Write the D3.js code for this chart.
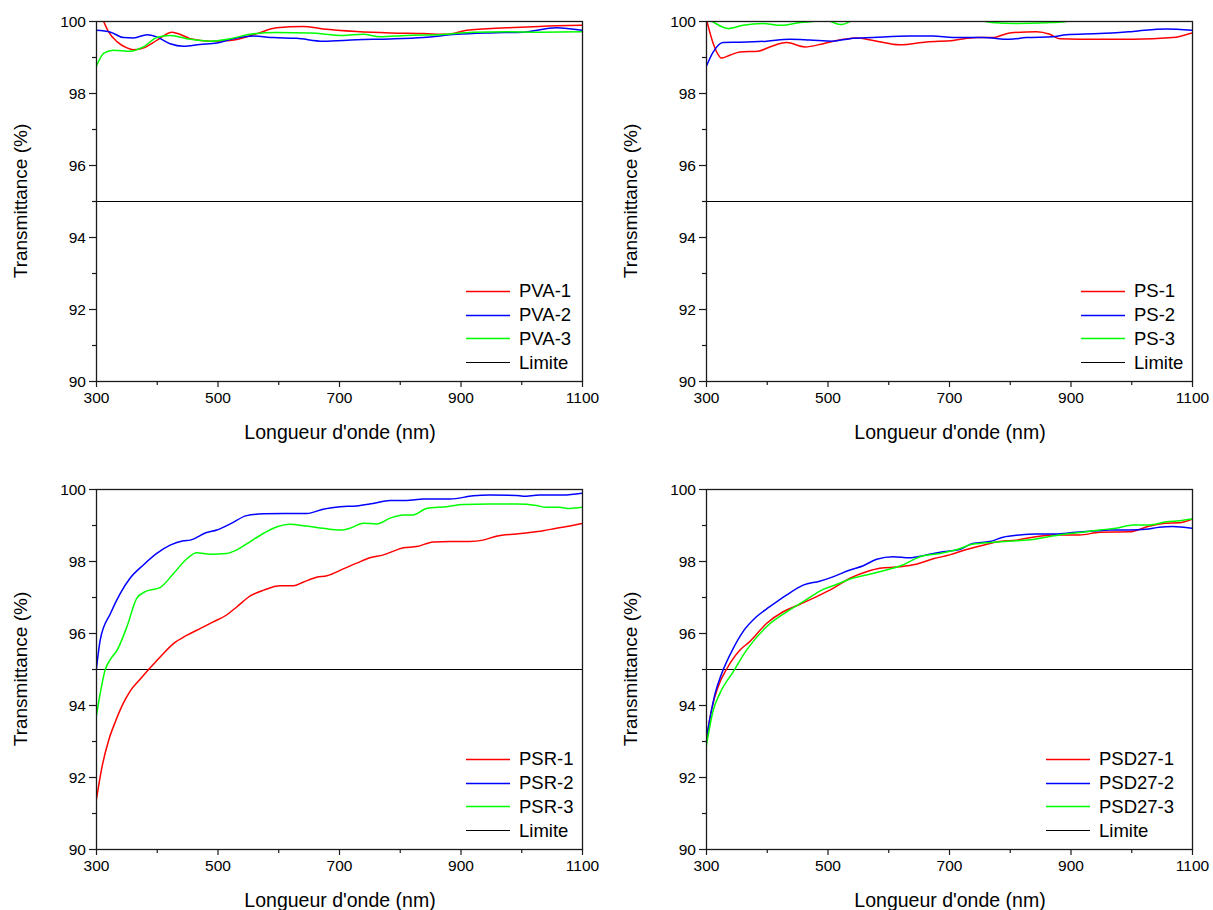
<!DOCTYPE html>
<html><head><meta charset="utf-8">
<script src="https://cdn.jsdelivr.net/npm/d3@7"></script>
<style>body{margin:0;background:#fff}svg{display:block;font-family:"Liberation Sans",Arial,sans-serif}</style>
</head><body><svg id="c" width="1213" height="910"></svg>
<script>
// ---- data ----
const xTicks = [300, 500, 700, 900, 1100];
const xMinorTicks = [400, 600, 800, 1000];
const yTicks = [90, 92, 94, 96, 98, 100];
const yMinorTicks = [91, 93, 95, 97, 99];
const limitValue = 95;
const xTitle = "Longueur d'onde (nm)";
const yTitle = "Transmittance (%)";
const seriesColors = ["#ff0000", "#0000ff", "#00ff00"];

const PVA_1 = [[300,100.6],[310,100.1],[320,99.72],[335,99.42],[350,99.26],[362,99.2],[380,99.26],[400,99.46],[425,99.69],[440,99.62],[455,99.51],[488,99.44],[521,99.46],[565,99.65],[597,99.81],[641,99.85],[674,99.78],[729,99.71],[784,99.67],[839,99.65],[877,99.63],[910,99.74],[976,99.81],[1030,99.85],[1100,99.88]];
const PVA_2 = [[300,99.74],[324,99.69],[345,99.54],[362,99.53],[384,99.62],[400,99.56],[422,99.37],[444,99.30],[471,99.35],[499,99.39],[526,99.51],[559,99.58],[592,99.54],[630,99.52],[674,99.44],[729,99.48],[784,99.50],[839,99.54],[893,99.63],[948,99.67],[1003,99.69],[1058,99.81],[1100,99.74]];
const PVA_3 = [[300,98.72],[313,99.11],[329,99.19],[356,99.16],[378,99.28],[400,99.54],[422,99.60],[455,99.49],[488,99.44],[521,99.51],[554,99.63],[597,99.68],[652,99.67],[707,99.60],[740,99.63],[767,99.56],[811,99.60],[866,99.62],[921,99.69],[976,99.70],[1030,99.69],[1100,99.70]];

const PS_1 = [[300,100.1],[312,99.37],[326,98.97],[339,99.05],[356,99.14],[386,99.16],[405,99.28],[433,99.40],[463,99.28],[493,99.37],[526,99.49],[548,99.53],[575,99.46],[619,99.34],[663,99.42],[707,99.46],[745,99.54],[772,99.54],[800,99.67],[844,99.70],[866,99.63],[882,99.51],[948,99.49],[1003,99.49],[1068,99.54],[1100,99.67]];
const PS_2 = [[300,98.72],[312,99.14],[328,99.40],[356,99.41],[400,99.44],[438,99.49],[471,99.47],[509,99.44],[537,99.51],[575,99.54],[635,99.58],[674,99.58],[707,99.54],[756,99.54],[800,99.49],[827,99.54],[871,99.56],[893,99.62],[948,99.65],[1003,99.71],[1057,99.78],[1100,99.74]];
const PS_3 = [[300,100.1],[312,99.97],[337,99.79],[361,99.88],[394,99.93],[424,99.88],[455,99.96],[482,100.0],[493,100.04],[504,99.99],[523,99.90],[539,100.0],[560,100.1],[620,100.15],[700,100.1],[750,100.02],[770,99.96],[811,99.93],[860,99.95],[890,99.98],[910,100.05],[1000,100.15],[1100,100.2]];

const PSR_1 = [[300,91.31],[310,92.29],[321,93.03],[332,93.54],[345,94.05],[356,94.38],[373,94.72],[387,94.99],[406,95.34],[428,95.71],[450,95.94],[472,96.13],[493,96.31],[515,96.50],[532,96.73],[554,97.03],[576,97.19],[603,97.31],[625,97.31],[641,97.41],[663,97.55],[680,97.59],[707,97.78],[729,97.94],[751,98.09],[773,98.17],[795,98.31],[806,98.37],[828,98.40],[855,98.53],[883,98.54],[915,98.54],[937,98.58],[959,98.69],[992,98.75],[1014,98.79],[1036,98.84],[1058,98.91],[1080,98.97],[1100,99.04]];
const PSR_2 = [[300,94.9],[307,95.81],[324,96.55],[340,97.10],[356,97.52],[378,97.89],[400,98.21],[422,98.44],[444,98.56],[455,98.58],[482,98.79],[499,98.86],[521,99.03],[548,99.26],[576,99.31],[609,99.32],[647,99.32],[674,99.44],[702,99.51],[729,99.53],[756,99.60],[784,99.68],[811,99.68],[839,99.72],[883,99.72],[921,99.81],[948,99.83],[992,99.82],[1003,99.80],[1030,99.83],[1069,99.83],[1100,99.88]];
const PSR_3 = [[300,93.63],[307,94.33],[315,94.97],[323,95.25],[335,95.53],[351,96.18],[367,96.96],[381,97.15],[406,97.27],[428,97.66],[450,98.07],[466,98.23],[488,98.19],[515,98.21],[532,98.31],[554,98.54],[576,98.77],[598,98.95],[619,99.02],[647,98.97],[674,98.91],[702,98.86],[718,98.91],[740,99.05],[762,99.03],[784,99.19],[806,99.28],[822,99.28],[844,99.46],[877,99.51],[904,99.57],[948,99.58],[992,99.58],[1025,99.54],[1041,99.49],[1063,99.49],[1080,99.46],[1100,99.49]];

const PSD27_1 = [[300,92.94],[309,93.86],[320,94.51],[334,95.0],[356,95.53],[372,95.76],[400,96.27],[427,96.59],[455,96.80],[482,97.01],[509,97.24],[537,97.52],[564,97.70],[586,97.80],[619,97.84],[646,97.91],[674,98.06],[701,98.17],[729,98.32],[756,98.44],[783,98.54],[811,98.58],[838,98.66],[871,98.72],[915,98.72],[948,98.80],[997,98.81],[1030,98.97],[1057,99.05],[1079,99.06],[1100,99.16]];
const PSD27_2 = [[300,93.03],[307,93.68],[315,94.32],[326,94.88],[345,95.58],[361,96.04],[383,96.45],[405,96.73],[433,97.06],[460,97.33],[487,97.44],[509,97.56],[537,97.75],[559,97.87],[581,98.05],[608,98.12],[635,98.09],[663,98.17],[690,98.26],[718,98.32],[739,98.49],[767,98.54],[789,98.66],[816,98.72],[844,98.75],[876,98.75],[904,98.79],[937,98.83],[964,98.86],[997,98.86],[1024,98.88],[1046,98.94],[1068,98.96],[1100,98.91]];
const PSD27_3 = [[300,92.81],[312,93.86],[323,94.33],[345,94.93],[367,95.53],[400,96.18],[433,96.59],[460,96.87],[493,97.21],[520,97.38],[537,97.50],[564,97.61],[592,97.73],[624,97.89],[652,98.12],[685,98.21],[712,98.31],[740,98.47],[773,98.52],[811,98.56],[838,98.60],[866,98.68],[893,98.75],[920,98.80],[948,98.86],[975,98.91],[1003,99.0],[1030,99.0],[1058,99.09],[1079,99.12],[1100,99.17]];

const panelNames = [["PVA-1","PVA-2","PVA-3"],["PS-1","PS-2","PS-3"],["PSR-1","PSR-2","PSR-3"],["PSD27-1","PSD27-2","PSD27-3"]];
const panelSeries = [[PVA_1,PVA_2,PVA_3],[PS_1,PS_2,PS_3],[PSR_1,PSR_2,PSR_3],[PSD27_1,PSD27_2,PSD27_3]];
const limitLabel = "Limite";

// ---- layout ----
const layout = [
  {left:96, right:582, top:21, bottom:381, legX:466},
  {left:706, right:1192, top:21, bottom:381, legX:1081},
  {left:96, right:582, top:489, bottom:849, legX:466},
  {left:706, right:1192, top:489, bottom:849, legX:1046}
];

const svg = d3.select("#c");
const axisColor = "#1a1a1a";

layout.forEach((L, pi) => {
  const x = d3.scaleLinear().domain([300,1100]).range([L.left, L.right]);
  const y = d3.scaleLinear().domain([90,100]).range([L.bottom, L.top]);
  const g = svg.append("g");
  const clipId = "clip" + pi;
  svg.append("clipPath").attr("id", clipId).append("rect")
    .attr("x", L.left).attr("y", L.top).attr("width", L.right - L.left).attr("height", L.bottom - L.top);

  // limit line
  g.append("line").attr("x1", L.left).attr("x2", L.right)
    .attr("y1", Math.round(y(limitValue)) + 0.5).attr("y2", Math.round(y(limitValue)) + 0.5)
    .attr("stroke", "#000").attr("stroke-width", 1.1);

  // series
  const line = d3.line().x(d => x(d[0])).y(d => y(d[1])).curve(d3.curveMonotoneX);
  const sg = g.append("g").attr("clip-path", `url(#${clipId})`);
  panelSeries[pi].forEach((s, si) => {
    sg.append("path").datum(s).attr("d", line).attr("fill", "none")
      .attr("stroke", seriesColors[si]).attr("stroke-width", 1.5).attr("stroke-linejoin", "round");
  });

  // frame
  const fx = v => Math.round(v) + 0.5;
  g.append("rect").attr("x", fx(L.left)).attr("y", fx(L.top))
    .attr("width", Math.round(L.right) - Math.round(L.left)).attr("height", Math.round(L.bottom) - Math.round(L.top))
    .attr("fill", "none").attr("stroke", axisColor).attr("stroke-width", 1.3);

  // axes
  const xAxis = d3.axisBottom(x).tickValues(xTicks).tickSize(6).tickSizeOuter(0).tickFormat(d3.format("d"));
  const xg = g.append("g").attr("transform", `translate(0,${L.bottom})`).call(xAxis);
  const xAxisMinor = d3.axisBottom(x).tickValues(xMinorTicks).tickSize(4).tickSizeOuter(0).tickFormat("");
  const xgm = g.append("g").attr("transform", `translate(0,${L.bottom})`).call(xAxisMinor);
  const yAxis = d3.axisLeft(y).tickValues(yTicks).tickSize(7).tickSizeOuter(0).tickFormat(d3.format("d"));
  const yg = g.append("g").attr("transform", `translate(${L.left},0)`).call(yAxis);
  const yAxisMinor = d3.axisLeft(y).tickValues(yMinorTicks).tickSize(4).tickSizeOuter(0).tickFormat("");
  const ygm = g.append("g").attr("transform", `translate(${L.left},0)`).call(yAxisMinor);
  [xg, xgm, yg, ygm].forEach(a => {
    a.select(".domain").remove();
    a.selectAll("line").attr("stroke", axisColor).attr("stroke-width", 1.2);
    a.selectAll("text").attr("font-size", 15.5).attr("fill", "#000")
      .attr("font-family", "'Liberation Sans', Arial, sans-serif");
  });
  xg.selectAll("text").attr("y", 11).attr("dy", "0.71em");
  yg.selectAll("text").attr("x", -10).attr("dy", "0.34em");

  // titles
  g.append("text").attr("x", (L.left + L.right) / 2 + 1).attr("y", L.bottom + 58)
    .attr("text-anchor", "middle").attr("font-size", 19.5).text(xTitle);
  g.append("text").attr("transform", `translate(${L.left - 69},${(L.top + L.bottom) / 2}) rotate(-90)`)
    .attr("text-anchor", "middle").attr("font-size", 19).text(yTitle);

  // legend
  const names = panelNames[pi].concat([limitLabel]);
  const cols = seriesColors.concat(["#000"]);
  names.forEach((n, i) => {
    const ly = L.top + 270 + i * 23.7;
    g.append("line").attr("x1", L.legX).attr("x2", L.legX + 44)
      .attr("y1", Math.round(ly) + 0.5).attr("y2", Math.round(ly) + 0.5)
      .attr("stroke", cols[i]).attr("stroke-width", i === 3 ? 1.1 : 1.3);
    g.append("text").attr("x", L.legX + 53).attr("y", ly).attr("dy", "0.35em")
      .attr("font-size", 18.5).text(n);
  });
});
</script>
</body></html>
